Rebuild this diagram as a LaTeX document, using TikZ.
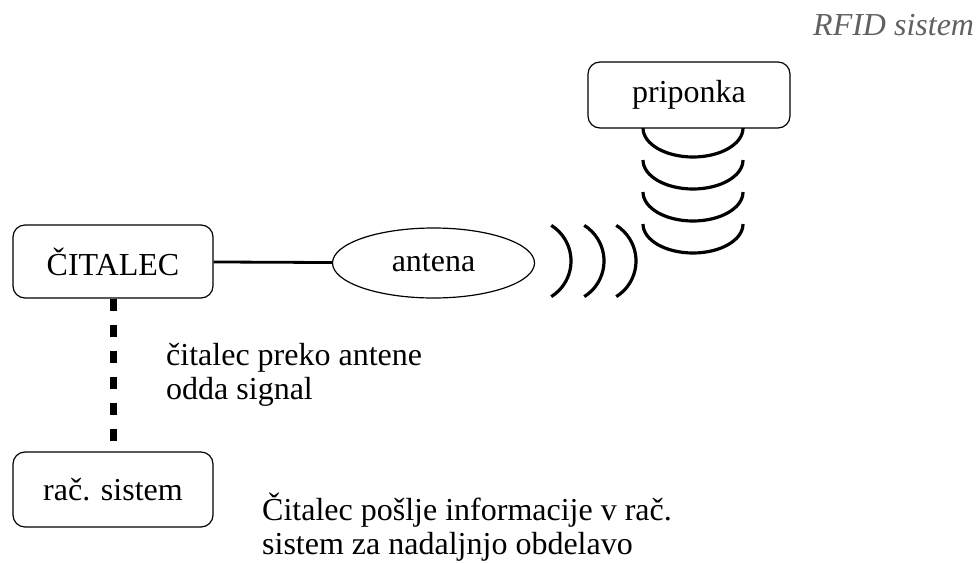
\documentclass[tikz,border=0pt]{standalone}
\usepackage{fontspec}
\setmainfont{Liberation Serif}
\usetikzlibrary{shapes.geometric, positioning}
\tikzset{
    blok/.style={draw, line width=1.2pt, rounded corners=12pt, minimum width=200pt, inner sep=0pt, font=\fontsize{32}{34}\selectfont},
    opis/.style={align=left, inner sep=0pt, font=\fontsize{32}{34}\selectfont},
    povezava/.style={line width=2.8pt},
    kabel/.style={line width=7pt, dash pattern=on 12pt off 14pt},
    tuljava/.style={line width=3.2pt},
    val/.style={line width=3.2pt}
}

\begin{document}
\begin{tikzpicture}[x=1pt, y=-1pt]
  \useasboundingbox (0,0) rectangle (976,562);

  \node[anchor=base west, inner sep=0pt, text=black!62, font=\fontsize{32}{34}\selectfont\itshape] (naslov) at (813,35) {RFID sistem};

  % bralnik, antena in priponka
  \node[blok, minimum height=73pt] (citalec) at (113,261.5) {ČITALEC};
  \node[ellipse, draw, line width=1.2pt, minimum width=202pt, minimum height=70pt, inner sep=0pt, font=\fontsize{32}{34}\selectfont] (antena) at (433.5,263) {antena};
  \node[blok, minimum width=202pt, minimum height=66pt] (priponka) at (689,95) {priponka};
  \node[blok, minimum height=75pt] (racsistem) at (113,489.5) {rač. sistem};

  \draw[povezava] (citalec) -- (antena);
  \draw[kabel] (citalec) -- (racsistem);

  % navitje priponke
  \foreach \i in {0,...,3}
    \draw[tuljava] (643,128+32*\i) arc[start angle=180, end angle=360, x radius=50pt, y radius=29pt];

  % signal iz antene
  \foreach \x in {529,562,594}
    \draw[val] (\x,261) ++(-58:42pt) arc[start angle=-58, end angle=58, radius=42pt];

  \node[opis, anchor=base west] (oddaja) at (166,399) {čitalec preko antene\\odda signal};
  \node[opis, anchor=base west] (posiljanje) at (262,554) {Čitalec pošlje informacije v rač.\\sistem za nadaljnjo obdelavo};
\end{tikzpicture}
\end{document}
